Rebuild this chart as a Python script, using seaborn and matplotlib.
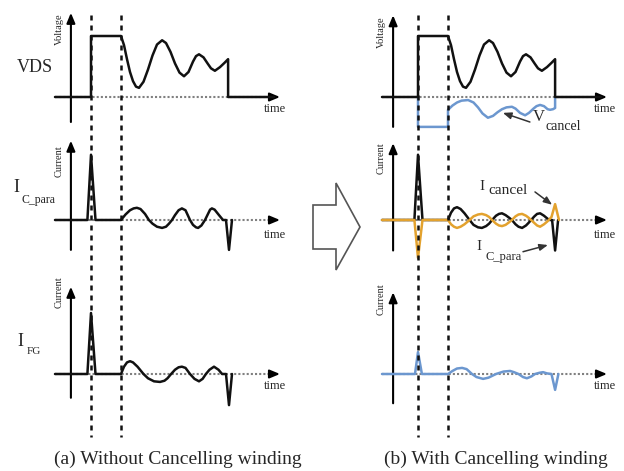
import matplotlib
matplotlib.use("Agg")
import matplotlib.pyplot as plt
import matplotlib.transforms as mtransforms
from matplotlib.patches import Polygon
from matplotlib.lines import Line2D
import seaborn as sns

sns.set_theme(style="white")
plt.rcParams["font.family"] = ["Liberation Serif", "DejaVu Serif"]

# ---- waveforms (time in pulse widths, amplitude relative to VDS plateau) ----
t_vds = [-1.2, 0, 0, 1.0, 1.1, 1.2, 1.3, 1.4, 1.5, 1.6, 1.75, 1.9, 2.05, 2.2, 2.37,
         2.5, 2.65, 2.8, 2.95, 3.1, 3.25, 3.4, 3.5, 3.6, 3.75, 3.9, 4.0, 4.13,
         4.3, 4.45, 4.57, 4.57, 6.1]
v_vds = [0, 0, 1.0, 1.0, 0.85, 0.62, 0.41, 0.26, 0.17, 0.15, 0.25, 0.45, 0.68, 0.86, 0.93,
         0.885, 0.74, 0.55, 0.40, 0.34, 0.41, 0.58, 0.67, 0.70, 0.65, 0.54, 0.47, 0.43,
         0.49, 0.56, 0.62, 0, 0]

t_vcancel = [0, 0, 1.0, 1.0, 1.15, 1.3, 1.45, 1.67, 1.85, 2.0, 2.15, 2.33, 2.5, 2.65,
             2.8, 2.95, 3.13, 3.25, 3.4, 3.57, 3.7, 3.85, 3.95, 4.07, 4.2, 4.32, 4.4,
             4.5, 4.57, 4.57]
v_vcancel = [0, -0.49, -0.49, -0.21, -0.14, -0.09, -0.06, -0.05, -0.09, -0.17, -0.27, -0.34,
             -0.31, -0.25, -0.20, -0.17, -0.16, -0.19, -0.26, -0.30, -0.26, -0.19, -0.15,
             -0.13, -0.15, -0.20, -0.21, -0.20, -0.18, 0]

t_icpara = [-1.2, -0.12, 0, 0.15, 1.0, 1.15, 1.3, 1.42, 1.53, 1.65, 1.8, 1.93, 2.05, 2.2,
            2.37, 2.5, 2.6, 2.7, 2.8, 2.92, 3.03, 3.15, 3.3, 3.4, 3.5, 3.57, 3.68, 3.8,
            3.9, 3.97, 4.03, 4.12, 4.25, 4.4, 4.5, 4.6, 4.7]
v_icpara = [0, 0, 1.07, 0, 0, 0.09, 0.16, 0.19, 0.20, 0.18, 0.10, 0, -0.06, -0.11,
            -0.13, -0.11, -0.06, 0, 0.08, 0.16, 0.19, 0.16, 0, -0.08, -0.12, -0.13, -0.09, 0,
            0.10, 0.17, 0.19, 0.17, 0.09, 0, 0, -0.49, 0]

t_ifg = [-1.2, -0.12, 0, 0.15, 1.0, 1.1, 1.2, 1.3, 1.4, 1.55, 1.75, 1.9, 2.1, 2.3, 2.45,
         2.55, 2.67, 2.8, 2.92, 3.03, 3.15, 3.3, 3.45, 3.6, 3.72, 3.83, 3.95, 4.1, 4.25,
         4.37, 4.5, 4.6, 4.7]
v_ifg = [0, 0, 1.0, 0, 0, 0.12, 0.19, 0.21, 0.19, 0.12, 0, -0.07, -0.12, -0.13, -0.11,
         -0.07, 0, 0.07, 0.11, 0.12, 0.10, 0, -0.08, -0.12, -0.08, 0, 0.07, 0.12, 0.07,
         0, 0, -0.51, 0]

t_icpara_b = [-1.2, -0.12, 0, 0.15, 1.0, 1.1, 1.2, 1.3, 1.42, 1.55, 1.72, 1.85, 2.0, 2.13,
              2.27, 2.37, 2.47, 2.6, 2.7, 2.8, 2.92, 3.03, 3.13, 3.25, 3.35, 3.47, 3.6,
              3.68, 3.77, 3.88, 3.97, 4.07, 4.2, 4.32, 4.4, 4.47, 4.57, 4.67]
v_icpara_b = [0, 0, 1.07, 0, 0, 0.12, 0.19, 0.21, 0.18, 0.11, 0, -0.08, -0.12, -0.13,
              -0.10, -0.06, 0, 0.07, 0.10, 0.11, 0.08, 0.04, 0, -0.07, -0.11, -0.13, -0.09,
              -0.05, 0, 0.06, 0.10, 0.11, 0.07, 0.02, 0, 0, -0.50, 0]

t_icancel = [-1.2, -0.12, 0, 0.15, 1.0, 1.1, 1.2, 1.3, 1.42, 1.55, 1.72, 1.85, 2.0, 2.13,
             2.27, 2.37, 2.47, 2.6, 2.7, 2.8, 2.92, 3.03, 3.13, 3.25, 3.35, 3.47, 3.6,
             3.68, 3.77, 3.88, 3.97, 4.07, 4.2, 4.32, 4.45, 4.57, 4.7]
v_icancel = [0, 0, -0.62, 0, 0, -0.07, -0.11, -0.13, -0.11, -0.07, 0, 0.06, 0.09, 0.10,
             0.08, 0.05, 0, -0.06, -0.09, -0.10, -0.08, -0.04, 0, 0.06, 0.09, 0.10, 0.07,
             0.04, 0, -0.05, -0.09, -0.11, -0.07, -0.02, 0.05, 0.26, 0]

t_ifg_b = [-1.2, -0.1, 0, 0.13, 1.0, 1.15, 1.3, 1.47, 1.62, 1.8, 1.95, 2.17, 2.35, 2.6,
           2.85, 3.07, 3.2, 3.35, 3.5, 3.63, 3.78, 3.9, 4.05, 4.17, 4.3, 4.45, 4.57, 4.68]
v_ifg_b = [0, 0, 0.36, 0, 0, 0.05, 0.09, 0.10, 0.08, 0, -0.05, -0.08, -0.06, 0, 0.04,
           0.05, 0.03, 0, -0.05, -0.07, -0.04, 0, 0.02, 0.03, 0.01, 0, -0.26, 0]

edges = [0, 1.0]          # switching instants (dashed lines)
BLACK, BLUE, ORANGE = "#111111", "#6c97cf", "#e3a22e"

# ---- layout ----
W, H = 624, 471
fig = plt.figure(figsize=(W / 100, H / 100), dpi=100)
PX_T, PX_V = 30.0, 61.0
XL, YL = (-1.5, 6.8), (-0.8, 1.5)
col_zero_px = [91, 418]
row_base_px = [97, 220, 374]
axis_t = [-0.67, -0.83]
T_TIP = 6.3


def panel(col, row):
    left = (col_zero_px[col] + XL[0] * PX_T) / W
    width = (XL[1] - XL[0]) * PX_T / W
    bottom = 1 - (row_base_px[row] - YL[0] * PX_V) / H
    height = (YL[1] - YL[0]) * PX_V / H
    ax = fig.add_axes([left, bottom, width, height])
    ax.set_xlim(*XL)
    ax.set_ylim(*YL)
    return ax


head = dict(arrowstyle="-|>,head_length=0.6,head_width=0.25", color="black",
            lw=1.5, mutation_scale=10, shrinkA=0, shrinkB=0)
pointer = dict(arrowstyle="-|>,head_length=0.5,head_width=0.2", color="#333333",
               lw=1.1, mutation_scale=10, shrinkA=0, shrinkB=0)


def frame(ax, col, vbot, vtop, ylab, ylab_v, tlab_v):
    ta = axis_t[col]
    ax.plot([-1.2, T_TIP - 0.2], [0, 0], color="#808080", lw=1.5, ls=(0, (1, 1)), zorder=1)
    ax.annotate("", xy=(T_TIP, 0), xytext=(T_TIP - 0.3, 0), arrowprops=head)
    ax.annotate("", xy=(ta, vtop), xytext=(ta, vbot), arrowprops=head)
    ax.text(ta - 0.4, ylab_v, ylab, rotation=90, ha="center", va="center", fontsize=7.5)
    ax.text(6.13 if col == 0 else 6.23, tlab_v, "time", ha="center", va="center", fontsize=9)


def wave(ax, t, v, color, z=3):
    sns.lineplot(x=t, y=v, ax=ax, color=color, lw=1.8, sort=False, estimator=None, zorder=z)


def finish(ax):
    ax.set_xlabel("")
    ax.set_ylabel("")
    ax.axis("off")


axes = {}
# left column: without cancelling winding
ax = panel(0, 0); frame(ax, 0, -0.41, 1.38, "Voltage", 1.11, -0.2)
wave(ax, t_vds, v_vds, BLACK); axes[(0, 0)] = ax
ax = panel(0, 1); frame(ax, 0, -0.49, 1.30, "Current", 0.97, -0.25)
wave(ax, t_icpara, v_icpara, BLACK); axes[(0, 1)] = ax
ax = panel(0, 2); frame(ax, 0, -0.39, 1.43, "Current", 1.34, -0.2)
wave(ax, t_ifg, v_ifg, BLACK); axes[(0, 2)] = ax

# right column: with cancelling winding
ax = panel(1, 0); frame(ax, 1, -0.49, 1.34, "Voltage", 1.07, -0.2)
wave(ax, t_vcancel, v_vcancel, BLUE, 2)
wave(ax, t_vds, v_vds, BLACK)
ax.annotate("", xy=(2.83, -0.26), xytext=(3.73, -0.41), arrowprops=pointer)
axes[(1, 0)] = ax
ax = panel(1, 1); frame(ax, 1, -0.50, 1.26, "Current", 1.02, -0.25)
wave(ax, t_icpara_b, v_icpara_b, BLACK)
wave(ax, t_icancel, v_icancel, ORANGE, 4)
for tail, tip in [((3.9, 0.46), (4.47, 0.25)), ((3.5, -0.52), (4.33, -0.41))]:
    ax.annotate("", xy=tip, xytext=tail, arrowprops=pointer)
axes[(1, 1)] = ax
ax = panel(1, 2); frame(ax, 1, -0.48, 1.34, "Current", 1.23, -0.2)
wave(ax, t_ifg_b, v_ifg_b, BLUE); axes[(1, 2)] = ax

for a in axes.values():
    finish(a)

# dashed switching-instant lines spanning all three rows of each column
for col in (0, 1):
    tr = mtransforms.blended_transform_factory(axes[(col, 0)].transData, fig.transFigure)
    for te in edges:
        fig.add_artist(Line2D([te, te], [1 - 15 / H, 1 - 437 / H], transform=tr,
                              color=BLACK, lw=1.8, ls=(0, (2.0, 2.0)), zorder=5))


def ftxt(x, y, s, size, ha="center", **kw):
    fig.text(x / W, 1 - y / H, s, fontsize=size, ha=ha, va="center", **kw)


ftxt(35, 68, "VDS", 13)
ftxt(16, 187, "I", 13)
ftxt(22, 200, "C_para", 8.5, ha="left")
ftxt(20, 341, "I", 13)
ftxt(27, 352, "FG", 8, ha="left")
ftxt(539, 117, "V", 12)
ftxt(546, 127, "cancel", 10, ha="left")
ftxt(482, 187, "I", 11)
ftxt(488, 191, "cancel", 11, ha="left")
ftxt(479, 246, "I", 11)
ftxt(485, 257, "C_para", 9, ha="left")
ftxt(178, 459, "(a) Without Cancelling winding", 14)
ftxt(496, 459, "(b) With Cancelling winding", 14)

# hollow block arrow between the two columns
arrow_px = [(313, 205), (336, 205), (336, 183), (360, 227), (336, 270), (336, 249), (313, 249)]
fig.add_artist(Polygon([(x / W, 1 - y / H) for x, y in arrow_px], closed=True,
                       transform=fig.transFigure, facecolor="white",
                       edgecolor="#555555", lw=1.2))

fig.savefig("out.png", dpi=100)
